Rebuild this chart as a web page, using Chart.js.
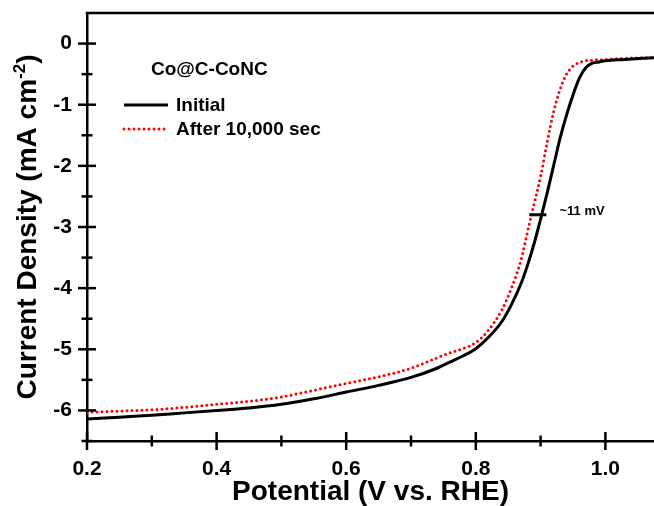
<!DOCTYPE html>
<html>
<head>
<meta charset="utf-8">
<script src="https://cdn.jsdelivr.net/npm/chart.js@4.4.1/dist/chart.umd.min.js"></script>
<style>
  body { margin: 0; background: #fff; }
  #wrap { width: 654px; height: 506px; }
</style>
</head>
<body>
<div id="wrap"><canvas id="graph" width="654" height="506"></canvas></div>
<script>
// values
const potentialInitial = [0.20, 0.25, 0.30, 0.35, 0.40, 0.45, 0.50, 0.55, 0.60, 0.65, 0.70, 0.74, 0.76, 0.78, 0.80, 0.82, 0.84, 0.855, 0.87, 0.88, 0.89, 0.90, 0.91, 0.92, 0.93, 0.94, 0.95, 0.96, 0.97, 0.98, 0.99, 1.00, 1.03, 1.075];
const currentInitial = [-6.14, -6.11, -6.08, -6.04, -6.00, -5.96, -5.90, -5.81, -5.70, -5.59, -5.46, -5.31, -5.21, -5.11, -4.99, -4.80, -4.55, -4.27, -3.92, -3.62, -3.27, -2.87, -2.45, -2.00, -1.55, -1.17, -0.84, -0.56, -0.39, -0.32, -0.30, -0.28, -0.26, -0.23];

const potentialAfter = [0.20, 0.25, 0.30, 0.35, 0.40, 0.45, 0.50, 0.55, 0.60, 0.65, 0.70, 0.74, 0.76, 0.78, 0.80, 0.82, 0.84, 0.855, 0.87, 0.88, 0.89, 0.90, 0.91, 0.92, 0.93, 0.94, 0.95, 0.96, 0.97, 0.98, 1.00, 1.03, 1.075];
const currentAfter = [-6.03, -6.01, -5.99, -5.95, -5.90, -5.85, -5.78, -5.67, -5.56, -5.45, -5.31, -5.14, -5.06, -4.99, -4.89, -4.68, -4.36, -4.00, -3.53, -3.07, -2.62, -2.17, -1.62, -1.12, -0.75, -0.50, -0.37, -0.31, -0.28, -0.27, -0.26, -0.24, -0.23];

const xMajorTicks = [0.2, 0.4, 0.6, 0.8, 1.0];
const xMinorTicks = [0.3, 0.5, 0.7, 0.9];
const yMajorTicks = [0, -1, -2, -3, -4, -5, -6];
const yMinorTicks = [-0.5, -1.5, -2.5, -3.5, -4.5, -5.5, -6.5];

const sampleName = 'Co@C-CoNC';
const shiftLabel = '~11 mV';
const shiftMark = { y: -2.8, x1: 0.8826, x2: 0.909 };

const FONT = '"Liberation Sans", Arial, sans-serif';
Chart.defaults.font.family = FONT;
Chart.defaults.color = '#000';

function toPoints(xs, ys) {
  return xs.map((x, i) => ({ x: x, y: ys[i] }));
}

// frame top line, crossing tick marks, y title, legend and the shift note
const decorations = {
  id: 'decorations',
  afterDraw(chart) {
    const ctx = chart.ctx;
    const area = chart.chartArea;
    const xs = chart.scales.x;
    const ys = chart.scales.y;
    ctx.save();
    ctx.strokeStyle = '#000';
    ctx.lineWidth = 2.5;
    ctx.beginPath();
    ctx.moveTo(area.left - 1.25, area.top);
    ctx.lineTo(area.right, area.top);
    ctx.stroke();

    function tickX(v, len) {
      const px = xs.getPixelForValue(v);
      ctx.beginPath();
      ctx.moveTo(px, area.bottom - len);
      ctx.lineTo(px, area.bottom + len);
      ctx.stroke();
    }
    function tickY(v, len) {
      const py = ys.getPixelForValue(v);
      ctx.beginPath();
      ctx.moveTo(area.left - len, py);
      ctx.lineTo(area.left + len, py);
      ctx.stroke();
    }
    xMajorTicks.forEach(v => tickX(v, 9));
    xMinorTicks.forEach(v => tickX(v, 5.5));
    yMajorTicks.forEach(v => tickY(v, 9));
    yMinorTicks.forEach(v => tickY(v, 5.5));

    // y title with a real superscript
    const mainText = 'Current Density (mA cm';
    const supText = '-2';
    const endText = ')';
    ctx.font = 'bold 28px ' + FONT;
    const w1 = ctx.measureText(mainText).width;
    const w3 = ctx.measureText(endText).width;
    ctx.font = 'bold 17px ' + FONT;
    const w2 = ctx.measureText(supText).width;
    const total = w1 + w2 + w3;
    ctx.translate(36, (area.top + area.bottom) / 2);
    ctx.rotate(-Math.PI / 2);
    ctx.fillStyle = '#000';
    ctx.textBaseline = 'alphabetic';
    ctx.textAlign = 'left';
    let pos = -total / 2;
    ctx.font = 'bold 28px ' + FONT;
    ctx.fillText(mainText, pos, 0);
    pos += w1;
    ctx.font = 'bold 17px ' + FONT;
    ctx.fillText(supText, pos, -11);
    pos += w2;
    ctx.font = 'bold 28px ' + FONT;
    ctx.fillText(endText, pos, 0);
    ctx.setTransform(1, 0, 0, 1, 0, 0);

    // legend
    const ds = chart.data.datasets;
    ctx.font = 'bold 19px ' + FONT;
    ctx.textBaseline = 'middle';
    ctx.fillText(sampleName, 151, 70);
    const rows = [105, 129];
    ds.forEach((d, i) => {
      ctx.strokeStyle = d.borderColor;
      ctx.lineWidth = d.borderWidth;
      ctx.lineCap = d.borderCapStyle || 'butt';
      ctx.setLineDash(d.borderDash || []);
      ctx.beginPath();
      ctx.moveTo(124, rows[i]);
      ctx.lineTo(168, rows[i]);
      ctx.stroke();
      ctx.setLineDash([]);
      ctx.fillText(d.label, 176, rows[i] + 1);
    });

    // ~11 mV mark
    const my = ys.getPixelForValue(shiftMark.y);
    const mx1 = xs.getPixelForValue(shiftMark.x1);
    const mx2 = xs.getPixelForValue(shiftMark.x2);
    ctx.strokeStyle = '#000';
    ctx.lineWidth = 3;
    ctx.lineCap = 'butt';
    ctx.beginPath();
    ctx.moveTo(mx1, my);
    ctx.lineTo(mx2, my);
    ctx.stroke();
    ctx.font = 'bold 13px ' + FONT;
    ctx.fillText(shiftLabel, mx2 + 13, my - 3);
    ctx.restore();
  }
};

const ctx = document.getElementById('graph').getContext('2d');
new Chart(ctx, {
  type: 'line',
  data: {
    datasets: [{
      label: 'Initial',
      data: toPoints(potentialInitial, currentInitial),
      borderColor: '#000',
      borderWidth: 3,
      pointRadius: 0,
      cubicInterpolationMode: 'monotone',
      fill: false
    }, {
      label: 'After 10,000 sec',
      data: toPoints(potentialAfter, currentAfter),
      borderColor: '#ff0000',
      borderWidth: 3,
      borderDash: [0, 5],
      borderCapStyle: 'round',
      pointRadius: 0,
      cubicInterpolationMode: 'monotone',
      fill: false
    }]
  },
  options: {
    responsive: false,
    animation: false,
    devicePixelRatio: 1,
    layout: { padding: { top: 13, right: 0, left: 0, bottom: 0 } },
    plugins: { legend: { display: false }, tooltip: { enabled: false } },
    scales: {
      x: {
        type: 'linear',
        min: 0.2,
        max: 1.075,
        afterFit: s => { s.height = 65; s.paddingLeft = 0; s.paddingRight = 0; },
        border: { display: true, color: '#000', width: 2.5 },
        grid: { display: true, drawOnChartArea: false, color: 'rgba(0,0,0,0)', tickLength: 9 },
        ticks: {
          stepSize: 0.1,
          includeBounds: false,
          autoSkip: false,
          maxRotation: 0,
          padding: 7,
          font: { size: 21, weight: 'bold' },
          callback: v => xMajorTicks.some(t => Math.abs(t - v) < 1e-6) ? v.toFixed(1) : ''
        },
        title: {
          display: true,
          text: 'Potential (V vs. RHE)',
          font: { size: 28, weight: 'bold', lineHeight: 1 },
          padding: { top: 0, bottom: 0 }
        }
      },
      y: {
        type: 'linear',
        min: -6.5,
        max: 0.5,
        afterFit: s => { s.width = 87; s.paddingTop = 0; s.paddingBottom = 0; },
        border: { display: true, color: '#000', width: 2.5 },
        grid: { display: true, drawOnChartArea: false, color: 'rgba(0,0,0,0)', tickLength: 9 },
        ticks: {
          stepSize: 0.5,
          autoSkip: false,
          padding: 6,
          font: { size: 21, weight: 'bold' },
          callback: v => yMajorTicks.some(t => Math.abs(t - v) < 1e-6) ? String(Math.round(v)) : ''
        }
      }
    }
  },
  plugins: [decorations]
});
</script>
</body>
</html>
